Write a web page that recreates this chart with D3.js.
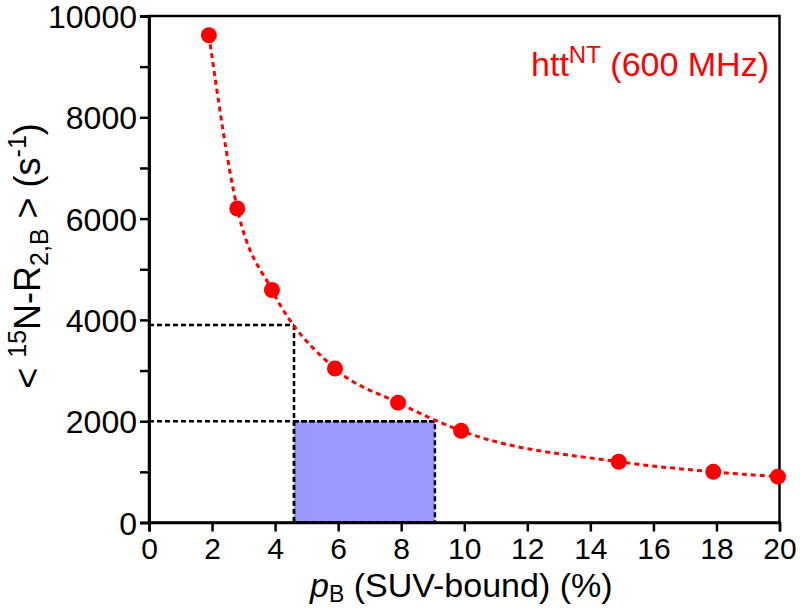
<!DOCTYPE html>
<html>
<head>
<meta charset="utf-8">
<script src="https://cdn.jsdelivr.net/npm/d3@7"></script>
<style>
  html, body { margin: 0; padding: 0; background: #fff; }
  svg { display: block; font-family: "Liberation Sans", Arial, Helvetica, sans-serif; }
</style>
</head>
<body>
<svg id="chart" width="800" height="608"></svg>
<script>
// ---- data ----
const pB = [1.9, 2.8, 3.9, 5.9, 7.9, 9.9, 14.9, 17.9, 19.95];
const r2B = [9620, 6200, 4590, 3040, 2365, 1810, 1200, 1000, 905];
const xTicks = [0, 2, 4, 6, 8, 10, 12, 14, 16, 18, 20];
const yTicksMajor = [0, 2000, 4000, 6000, 8000, 10000];
const yTicksMinor = [1000, 3000, 5000, 7000, 9000];
const guideHigh = { x: 4.6, y: 3900 };
const guideLow = { x: 9.07, y: 2000 };
const boxRange = { x0: 4.6, x1: 9.07, y0: 0, y1: 2000 };

(function () {
// ---- layout ----
const svg = d3.select("#chart");
const pl = 149, pr = 779.5, pt = 16, pb = 522.5;
const x = d3.scaleLinear().domain([0, 20]).range([pl, pr]);
const y = d3.scaleLinear().domain([0, 10000]).range([pb, pt]);

// shaded box
svg.append("rect")
  .attr("x", x(boxRange.x0)).attr("y", y(boxRange.y1))
  .attr("width", x(boxRange.x1) - x(boxRange.x0))
  .attr("height", y(boxRange.y0) - y(boxRange.y1))
  .attr("fill", "#9999ff")
  .attr("stroke", "#000").attr("stroke-width", 2.5).attr("stroke-dasharray", "5,3");

// guide lines
const guide = svg.append("g").attr("stroke", "#000").attr("stroke-width", 2.5)
  .attr("stroke-dasharray", "5,3").attr("fill", "none");
guide.append("line").attr("x1", x(0)).attr("x2", x(guideHigh.x))
  .attr("y1", y(guideHigh.y)).attr("y2", y(guideHigh.y));
guide.append("line").attr("x1", x(guideHigh.x)).attr("x2", x(guideHigh.x))
  .attr("y1", y(guideHigh.y)).attr("y2", y(0));
guide.append("line").attr("x1", x(0)).attr("x2", x(guideLow.x))
  .attr("y1", y(guideLow.y)).attr("y2", y(guideLow.y));

// frame
svg.append("rect").attr("x", pl).attr("y", pt)
  .attr("width", pr - pl).attr("height", pb - pt)
  .attr("fill", "none").attr("stroke", "#000").attr("stroke-width", 2.5);

// axes
const xAxis = d3.axisBottom(x).tickValues(xTicks).tickSize(9).tickPadding(6).tickFormat(d3.format("d"));
const gx = svg.append("g").attr("transform", `translate(0,${pb})`).call(xAxis);
const yAxis = d3.axisLeft(y).tickValues(yTicksMajor).tickSize(9).tickPadding(3).tickFormat(d3.format("d"));
const gy = svg.append("g").attr("transform", `translate(${pl},0)`).call(yAxis);
const yMinor = d3.axisLeft(y).tickValues(yTicksMinor).tickSize(9).tickFormat("");
const gym = svg.append("g").attr("transform", `translate(${pl},0)`).call(yMinor);
[gx, gy, gym].forEach(g => {
  g.select(".domain").attr("stroke", "#000").attr("stroke-width", 2.5);
  g.selectAll(".tick line").attr("stroke", "#000").attr("stroke-width", 2.5);
  g.selectAll(".tick text").attr("fill", "#000")
    .style("font-family", "'Liberation Sans', Arial, sans-serif");
});
gx.selectAll(".tick text").style("font-size", "30px");
gy.selectAll(".tick text").style("font-size", "32px").attr("dy", "0.36em");

// curve
const line = d3.line().x((d, i) => x(pB[i])).y(d => y(d)).curve(d3.curveMonotoneX);
svg.append("path").datum(r2B).attr("d", line)
  .attr("fill", "none").attr("stroke", "#ff0000").attr("stroke-width", 3)
  .attr("stroke-dasharray", "5,4");

// points
svg.append("g").selectAll("circle").data(r2B).join("circle")
  .attr("cx", (d, i) => x(pB[i])).attr("cy", d => y(d)).attr("r", 8)
  .attr("fill", "#ff0000");

// legend text
const leg = svg.append("text").attr("x", 769).attr("y", 76).attr("text-anchor", "end")
  .attr("fill", "#ff0000").style("font-size", "34px");
leg.append("tspan").text("htt");
leg.append("tspan").attr("dy", -13).style("font-size", "24px").text("NT");
leg.append("tspan").attr("dy", 13).text(" (600 MHz)");

// x title
const xt = svg.append("text").attr("x", (pl + pr) / 2 - 3).attr("y", 597)
  .attr("text-anchor", "middle").attr("fill", "#000").style("font-size", "34px");
xt.append("tspan").style("font-style", "italic").text("p");
xt.append("tspan").attr("dy", 5).style("font-size", "23px").text("B");
xt.append("tspan").attr("dy", -5).text(" (SUV-bound) (%)");

// y title
const yt = svg.append("text").attr("transform", `translate(40,256) rotate(-90)`)
  .attr("text-anchor", "middle").attr("fill", "#000").style("font-size", "36px");
yt.append("tspan").text("<  ");
yt.append("tspan").attr("dy", -14).style("font-size", "25px").text("15");
yt.append("tspan").attr("dy", 14).text("N-R");
yt.append("tspan").attr("dy", 8).style("font-size", "25px").text("2,B");
yt.append("tspan").attr("dy", -8).text("  >  (s");
yt.append("tspan").attr("dy", -14).style("font-size", "25px").text("-1");
yt.append("tspan").attr("dy", 14).text(")");
})();
</script>
</body>
</html>
